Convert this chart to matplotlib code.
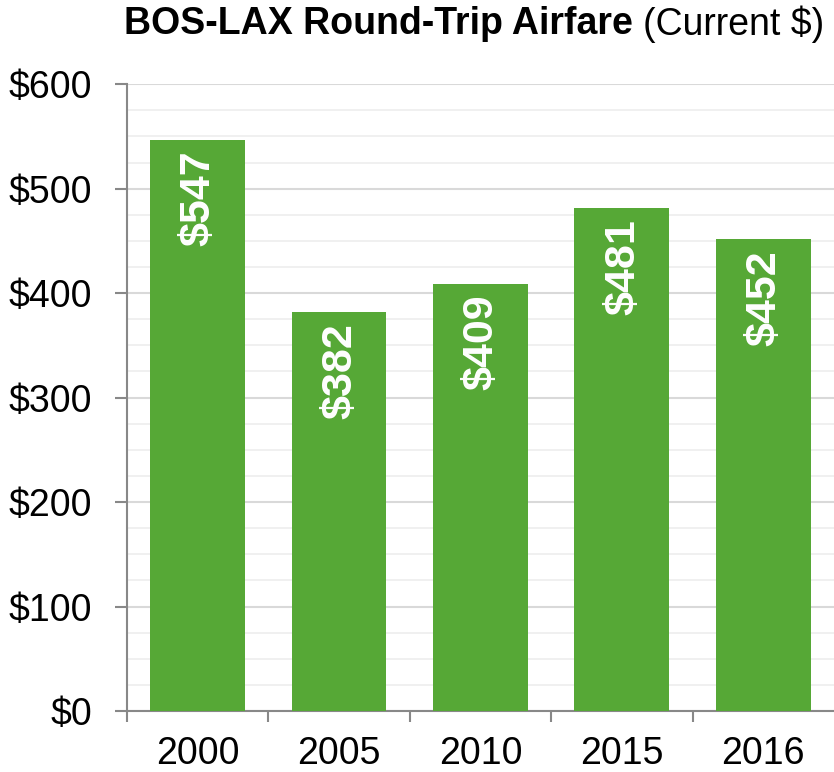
import matplotlib.pyplot as plt
from matplotlib.ticker import MultipleLocator

years = ["2000", "2005", "2010", "2015", "2016"]
fares = [547, 382, 409, 481, 452]

plt.rcParams['font.family'] = ['Liberation Sans', 'DejaVu Sans']

fig = plt.figure(figsize=(8.34, 7.72), dpi=100)
ax = fig.add_axes([0.152, 0.079, 0.848, 0.812])

x = range(len(years))
bars = ax.bar(x, fares, width=0.67, color='#56a836', zorder=3)

# value labels inside the bars, rotated
for bar, v in zip(bars, fares):
    ax.annotate(f'${v}', (bar.get_x() + bar.get_width() / 2, v),
                xytext=(1, -8), textcoords='offset points',
                ha='center', va='top', rotation=90,
                color='white', fontsize=31, fontweight='bold', zorder=4)

ax.set_xlim(-0.5, len(years) - 0.5)
ax.set_ylim(0, 600)
ax.yaxis.set_major_locator(MultipleLocator(100))
ax.yaxis.set_minor_locator(MultipleLocator(25))
ax.set_yticklabels([f'${int(t)}' for t in ax.get_yticks()])
ax.set_xticks(list(x))
ax.set_xticklabels(years)
ax.set_xticks([i + 0.5 for i in range(-1, len(years) - 1)], minor=True)

ax.grid(axis='y', which='major', color='#d9d9d9', lw=1.5, zorder=0)
ax.grid(axis='y', which='minor', color='#eeeeee', lw=1.2, zorder=0)

for s in ['top', 'right']:
    ax.spines[s].set_visible(False)
for s in ['left', 'bottom']:
    ax.spines[s].set_color('#888888')
    ax.spines[s].set_linewidth(1.5)

ax.tick_params(axis='y', which='major', length=9, width=1.5, color='#888888',
               labelsize=27, pad=16)
ax.tick_params(axis='y', which='minor', length=0)
ax.tick_params(axis='x', which='major', length=0, labelsize=27, pad=18)
ax.tick_params(axis='x', which='minor', length=8, width=1.5, color='#888888')

# title: bold part followed by regular part
t1 = fig.text(0.149, 0.969, 'BOS-LAX Round-Trip Airfare', fontsize=27,
              fontweight='bold', va='center', ha='left')
fig.canvas.draw()
bb = t1.get_window_extent().transformed(fig.transFigure.inverted())
fig.text(bb.x1 + 0.012, 0.969, '(Current $)', fontsize=27, va='center', ha='left')

fig.savefig('out.png', dpi=100)
